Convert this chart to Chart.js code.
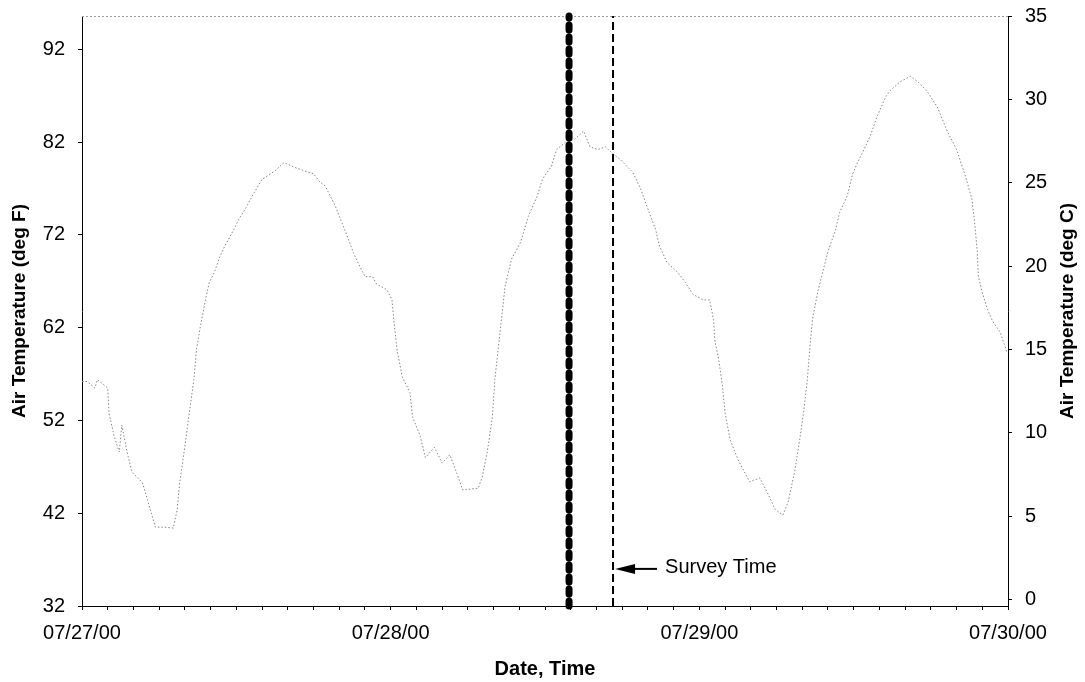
<!DOCTYPE html>
<html>
<head>
<meta charset="utf-8">
<script src="https://cdn.jsdelivr.net/npm/chart.js@4.4.1/dist/chart.umd.min.js"></script>
<style>
  html, body { margin: 0; padding: 0; background: #ffffff; }
  canvas { display: block; }
</style>
</head>
<body>
<canvas id="chart" width="1085" height="682"></canvas>
<script>
// Hours elapsed since 07/27/00 00:00
const hours = [
  0.0, 0.4, 1.0, 1.2, 2.0, 2.1, 2.5, 2.9, 3.1, 3.5, 3.9, 4.7, 5.1, 5.4, 5.7, 6.4, 7.1, 7.4, 7.6, 8.0,
  8.3, 8.7, 8.9, 9.2, 9.6, 9.9, 10.3, 10.7, 11.1, 11.7, 12.2, 12.7, 13.4, 14.0, 15.0, 15.7, 16.5, 17.3, 18.0, 18.5,
  18.9, 19.7, 20.5, 21.1, 21.6, 22.0, 22.6, 22.9, 23.7, 24.1, 24.3, 24.5, 24.9, 25.5, 25.7, 26.3, 26.7, 27.4, 28.0, 28.6,
  29.2, 29.6, 30.8, 31.1, 31.5, 31.9, 32.1, 32.5, 32.9, 33.4, 34.1, 34.7, 35.4, 35.8, 36.5, 36.9, 37.6, 38.3, 39.0, 39.5,
  40.1, 40.7, 41.3, 41.8, 42.8, 43.4, 44.0, 44.6, 44.9, 45.5, 46.3, 46.9, 47.5, 48.3, 48.8, 49.1, 49.2, 49.5, 49.8, 50.0,
  50.4, 51.0, 51.9, 52.7, 53.3, 53.9, 54.5, 54.9, 55.4, 55.8, 56.1, 56.4, 56.6, 56.8, 57.2, 57.5, 58.0, 58.6, 58.9, 59.5,
  59.9, 60.3, 60.7, 61.3, 61.8, 62.5, 62.8, 63.6, 64.4, 65.0, 65.7, 66.5, 67.3, 68.0, 68.7, 69.2, 69.4, 69.6, 69.7, 70.0,
  70.4, 70.8, 71.4, 71.9
];

// Air temperature readings, deg F
const tempF = [
  56.2, 56.2, 55.5, 56.4, 55.5, 52.8, 50.3, 48.6, 51.5, 48.6, 46.4, 45.3, 43.4, 42.0, 40.5, 40.5, 40.4, 42.4, 45.3, 49.2,
  52.4, 56.4, 59.6, 62.1, 65.0, 66.9, 68.0, 69.6, 70.8, 72.3, 73.7, 74.8, 76.6, 78.0, 78.9, 79.8, 79.3, 78.9, 78.6, 77.7,
  77.3, 75.1, 72.3, 70.1, 68.6, 67.5, 67.5, 66.7, 66.1, 65.0, 62.1, 59.6, 56.7, 55.0, 52.4, 50.3, 48.0, 49.1, 47.4, 48.3,
  46.1, 44.5, 44.7, 45.8, 48.5, 52.3, 56.4, 61.5, 66.5, 69.4, 71.2, 74.0, 76.2, 78.0, 79.4, 81.2, 82.0, 82.3, 83.2, 81.5,
  81.2, 81.5, 80.7, 80.2, 78.8, 77.1, 74.8, 72.6, 70.8, 69.0, 68.0, 66.9, 65.6, 65.0, 65.0, 62.9, 60.7, 58.6, 55.7, 52.8,
  49.9, 47.8, 45.4, 45.8, 44.2, 42.4, 41.8, 43.2, 46.4, 49.9, 52.8, 56.4, 60.0, 62.9, 65.8, 67.5, 70.2, 72.6, 74.4, 76.2,
  78.5, 79.8, 80.9, 82.7, 84.7, 86.9, 87.5, 88.5, 89.1, 88.5, 87.5, 85.8, 83.1, 81.2, 78.3, 75.8, 73.4, 70.4, 67.5, 65.8,
  64.0, 62.7, 61.5, 59.4
];

// Date labels shown at each midnight
const dayLabels = ['07/27/00', '07/28/00', '07/29/00', '07/30/00'];

// Tick labels of the two temperature axes
const fTicks = [32, 42, 52, 62, 72, 82, 92];
const cTicks = [0, 5, 10, 15, 20, 25, 30, 35];

// Event times (hours since 07/27/00 00:00)
const eventHour = 37.87;
const surveyHour = 41.29;
const surveyText = 'Survey Time';
const surveyLabelTempF = 36.0;

const FONT = "'Liberation Sans', Arial, Helvetica, sans-serif";
const F_MIN = 32, F_MAX = 95.6;
const C_MIN = -0.4, C_MAX = 35;

Chart.defaults.font.family = FONT;
Chart.defaults.font.size = 20;
Chart.defaults.color = '#000000';

const tempPoints = hours.map((h, i) => ({ x: h, y: tempF[i] }));
const vline = h => [{ x: h, y: F_MIN }, { x: h, y: F_MAX }];

// Fixed axis box sizes, without the extra room Chart.js reserves for edge labels
const fixBox = (w, h) => s => {
  if (w !== null) s.width = w;
  if (h !== null) s.height = h;
  s.paddingTop = 0; s.paddingBottom = 0; s.paddingLeft = 0; s.paddingRight = 0;
};

// Extra drawing: dotted top frame, right-hand title, survey arrow and label
const extras = {
  id: 'extras',
  beforeDatasetsDraw(chart) {
    const { ctx, chartArea } = chart;
    ctx.save();
    ctx.strokeStyle = '#9a9a9a';
    ctx.lineWidth = 1;
    ctx.setLineDash([2, 2]);
    ctx.beginPath();
    ctx.moveTo(chartArea.left, chartArea.top + 0.5);
    ctx.lineTo(chartArea.right, chartArea.top + 0.5);
    ctx.stroke();
    ctx.restore();
  },
  afterDraw(chart) {
    const { ctx, chartArea, scales } = chart;
    ctx.save();
    // Right axis title, reading bottom to top
    ctx.font = "bold 19px " + FONT;
    ctx.fillStyle = '#000';
    ctx.textAlign = 'center';
    ctx.textBaseline = 'middle';
    ctx.translate(1068, (chartArea.top + chartArea.bottom) / 2);
    ctx.rotate(-Math.PI / 2);
    ctx.fillText('Air Temperature (deg C)', 0, 0);
    ctx.restore();

    // Arrow pointing at the survey line
    const sx = scales.x.getPixelForValue(surveyHour);
    const sy = scales.y.getPixelForValue(surveyLabelTempF);
    const tip = sx + 2;
    ctx.save();
    ctx.fillStyle = '#000';
    ctx.strokeStyle = '#000';
    ctx.lineWidth = 2;
    ctx.beginPath();
    ctx.moveTo(tip + 16, sy);
    ctx.lineTo(tip + 42, sy);
    ctx.stroke();
    ctx.beginPath();
    ctx.moveTo(tip, sy);
    ctx.lineTo(tip + 20, sy - 5);
    ctx.lineTo(tip + 20, sy + 5);
    ctx.closePath();
    ctx.fill();
    ctx.font = "20px " + FONT;
    ctx.textAlign = 'left';
    ctx.textBaseline = 'middle';
    ctx.fillText(surveyText, tip + 50, sy - 1);
    ctx.restore();
  }
};

new Chart(document.getElementById('chart'), {
  type: 'line',
  data: {
    datasets: [
      {
        label: 'Event',
        data: vline(eventHour),
        yAxisID: 'y',
        borderColor: '#000000',
        borderWidth: 7,
        borderDash: [5, 7],
        borderCapStyle: 'round',
        pointRadius: 0,
        clip: false,
        order: 1
      },
      {
        label: 'Survey',
        data: vline(surveyHour),
        yAxisID: 'y',
        borderColor: '#000000',
        borderWidth: 2,
        borderDash: [8, 4],
        pointRadius: 0,
        order: 2
      },
      {
        label: 'Air Temperature',
        data: tempPoints,
        yAxisID: 'y',
        borderColor: '#858585',
        borderWidth: 1,
        borderDash: [1.5, 2],
        pointRadius: 0,
        tension: 0,
        order: 3
      }
    ]
  },
  options: {
    responsive: false,
    animation: false,
    layout: { padding: { top: 16, right: 0, bottom: 0, left: 0 } },
    plugins: {
      legend: { display: false },
      tooltip: { enabled: false }
    },
    scales: {
      x: {
        type: 'linear',
        position: 'bottom',
        min: 0,
        max: 72,
        afterFit: fixBox(null, 76),
        border: { display: true, color: '#000', width: 1 },
        grid: { drawOnChartArea: false, drawTicks: true, tickLength: 4, color: '#000' },
        ticks: {
          stepSize: 2,
          autoSkip: false,
          maxRotation: 0,
          padding: 11,
          callback: v => (v % 24 === 0 ? dayLabels[v / 24] : '')
        },
        title: {
          display: true,
          text: 'Date, Time',
          font: { size: 20, weight: 'bold' },
          padding: { top: 0, bottom: 1 }
        }
      },
      y: {
        type: 'linear',
        position: 'left',
        min: F_MIN,
        max: F_MAX,
        afterFit: fixBox(82, null),
        afterBuildTicks: s => { s.ticks = fTicks.map(v => ({ value: v })); },
        border: { display: true, color: '#000', width: 1 },
        grid: { drawOnChartArea: false, tickLength: 4, color: '#000' },
        ticks: { padding: 13 },
        title: {
          display: true,
          text: 'Air Temperature (deg F)',
          font: { size: 19, weight: 'bold' },
          padding: { top: 8, bottom: 0 }
        }
      },
      y2: {
        type: 'linear',
        position: 'right',
        min: C_MIN,
        max: C_MAX,
        afterFit: fixBox(77, null),
        afterBuildTicks: s => { s.ticks = cTicks.map(v => ({ value: v })); },
        border: { display: true, color: '#000', width: 1 },
        grid: { drawOnChartArea: false, tickLength: 4, color: '#000' },
        ticks: { padding: 13 }
      }
    }
  },
  plugins: [extras]
});
</script>
</body>
</html>
